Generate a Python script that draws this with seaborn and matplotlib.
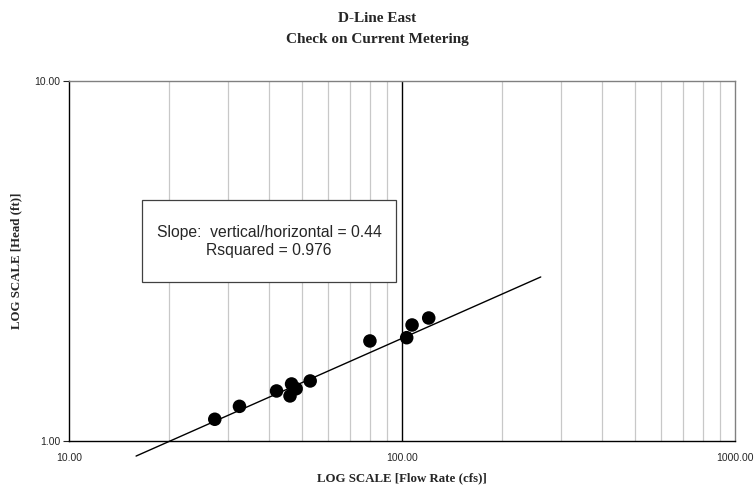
import matplotlib
matplotlib.use("Agg")
import matplotlib.pyplot as plt
import pandas as pd
import seaborn as sns
from matplotlib.patches import Rectangle
from matplotlib.ticker import FixedLocator, NullLocator, NullFormatter

# readings (flow rate cfs, head ft)
flow = [27.4, 32.5, 42.0, 46.6, 46.1, 48.1, 53.0, 80.1, 103.3, 107.2, 120.3]
head = [1.149, 1.248, 1.377, 1.440, 1.334, 1.397, 1.468, 1.896, 1.936, 2.100, 2.196]

# fitted trend line end points
fit_x = [15.9, 261.0]
fit_y = [0.908, 2.855]

x_ticks = [10, 100, 1000]
y_ticks = [1, 10]
x_grid = [20, 30, 40, 50, 60, 70, 80, 90, 200, 300, 400, 500, 600, 700, 800, 900]

df = pd.DataFrame({"flow": flow, "head": head})

sns.set_style("white")
plt.rcParams["font.family"] = ["Liberation Sans", "DejaVu Sans"]

fig = plt.figure(figsize=(7.55, 4.87), dpi=100)
ax = fig.add_axes([0.0914, 0.0945, 0.8821, 0.7392])
ax.set_xscale("log")
ax.set_yscale("log")
ax.set_xlim(10, 1000)
ax.set_ylim(1, 10)

for gx in x_grid:
    ax.axvline(gx, color="#c8c8c8", lw=0.9, zorder=0)
ax.axvline(100, color="black", lw=1.0, zorder=1)

ax.plot(fit_x, fit_y, color="black", lw=1.0, clip_on=False, zorder=2)
sns.scatterplot(data=df, x="flow", y="head", ax=ax, s=95, color="black",
                edgecolor="none", zorder=3, legend=False)

ax.xaxis.set_major_locator(FixedLocator(x_ticks))
ax.yaxis.set_major_locator(FixedLocator(y_ticks))
ax.xaxis.set_minor_locator(NullLocator())
ax.yaxis.set_minor_locator(NullLocator())
ax.xaxis.set_minor_formatter(NullFormatter())
ax.yaxis.set_minor_formatter(NullFormatter())
ax.set_xticklabels([f"{v:.2f}" for v in x_ticks], fontsize=7.5)
ax.set_yticklabels([f"{v:.2f}" for v in y_ticks], fontsize=7.5)
ax.tick_params(axis="x", length=0, pad=9)
ax.tick_params(axis="y", length=4, width=0.8, pad=2, direction="out", left=True)

for side in ["left", "bottom"]:
    ax.spines[side].set_color("black")
    ax.spines[side].set_linewidth(1.0)
for side in ["top", "right"]:
    ax.spines[side].set_color("#808080")
    ax.spines[side].set_linewidth(1.0)

ax.set_xlabel("LOG SCALE [Flow Rate (cfs)]", fontsize=9.3, fontweight="bold",
              family="Liberation Serif", labelpad=6)
ax.set_ylabel("LOG SCALE [Head (ft)]", fontsize=9.3, fontweight="bold",
              family="Liberation Serif", labelpad=9)

fig.text(0.5, 0.963, "D-Line East", ha="center", va="center", fontsize=11,
         fontweight="bold", family="Liberation Serif")
fig.text(0.5, 0.918, "Check on Current Metering", ha="center", va="center",
         fontsize=11, fontweight="bold", family="Liberation Serif")

# annotation box
ax.add_patch(Rectangle((0.110, 0.4425), 0.381, 0.227, transform=ax.transAxes,
                       fc="white", ec="#404040", lw=0.9, zorder=4))
ax.text(0.3003, 0.5786, "Slope:  vertical/horizontal = 0.44", transform=ax.transAxes,
        ha="center", va="center", fontsize=11.3, zorder=5)
ax.text(0.3003, 0.5278, "Rsquared = 0.976", transform=ax.transAxes,
        ha="center", va="center", fontsize=11.3, zorder=5)

fig.savefig("out.png", dpi=100)
